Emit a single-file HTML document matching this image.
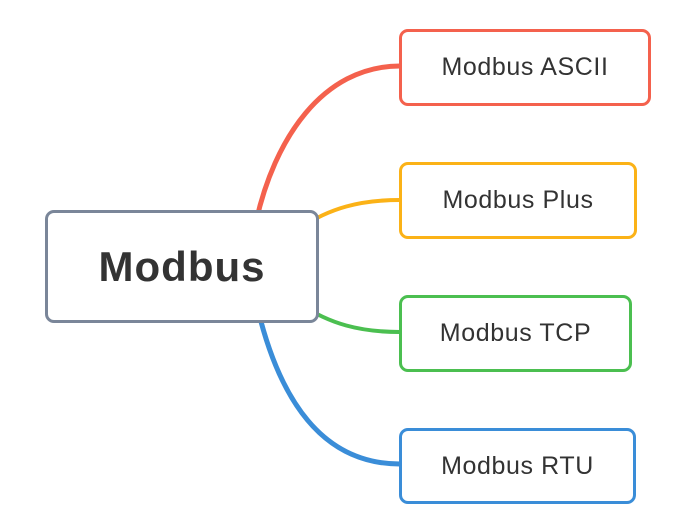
<!DOCTYPE html>
<html><head><meta charset="utf-8"><style>
html,body{margin:0;padding:0;background:#fff;width:679px;height:527px;overflow:hidden}
.b{position:absolute;box-sizing:border-box;background:#fff;border-radius:9px;display:flex;align-items:center;justify-content:center;font-family:"Liberation Sans",sans-serif;color:#333}
.c{font-size:25px;letter-spacing:0.6px;border:3px solid}
</style></head><body>
<svg width="679" height="527" style="position:absolute;left:0;top:0" fill="none">
<path d="M256,222 C274,140 322,66 400,66" stroke="#f4614d" stroke-width="5"/>
<path d="M300,228 C330,208 360,200 400,200" stroke="#fbb217" stroke-width="4"/>
<path d="M300,304 C330,324 360,332 400,332" stroke="#4bbf50" stroke-width="4"/>
<path d="M258,310 C280,400 322,464 400,464" stroke="#3a8dd8" stroke-width="5"/>
</svg>
<div class="b" style="left:45px;top:210px;width:274px;height:113px;border:3px solid #7a8699;font-size:42px;letter-spacing:1px;font-weight:bold;color:#333">Modbus</div>
<div class="b c" style="left:399px;top:29px;width:252px;height:77px;border-color:#f4614d">Modbus ASCII</div>
<div class="b c" style="left:399px;top:162px;width:238px;height:77px;border-color:#fbb217">Modbus Plus</div>
<div class="b c" style="left:399px;top:295px;width:233px;height:77px;border-color:#4bbf50">Modbus TCP</div>
<div class="b c" style="left:399px;top:428px;width:237px;height:76px;border-color:#3a8dd8">Modbus RTU</div>
</body></html>
